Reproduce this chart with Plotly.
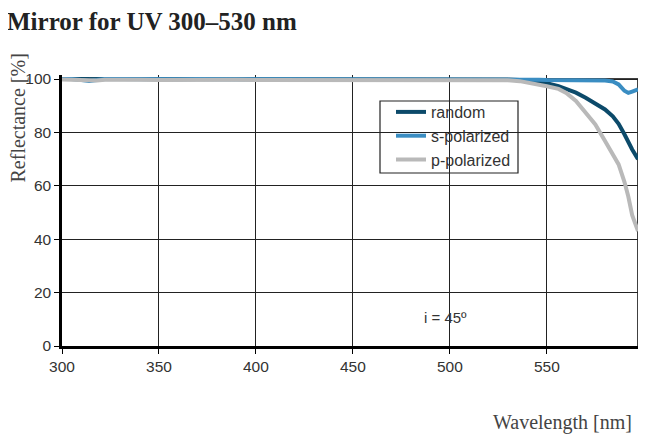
import plotly.graph_objects as go

# wavelength grid (nm)
wavelength = [300, 305, 310, 314, 318, 322, 330, 340, 350, 360, 370, 380, 390, 400,
              410, 420, 430, 440, 450, 460, 470, 480, 490, 500, 510, 520, 530, 536,
              540, 546, 550, 556, 560, 565, 570, 575, 580, 584, 587, 590, 592, 594, 597]

random_pol = [100.0, 100.0, 99.9, 99.8, 99.9, 100.0, 100.0, 99.9, 99.9, 100.0, 99.9, 99.9, 99.9, 99.9,
              99.9, 99.9, 100.0, 99.9, 99.9, 99.9, 99.9, 99.9, 100.0, 100.0, 100.0, 99.9, 99.8, 99.6,
              99.3, 99.0, 98.4, 97.3, 96.4, 94.9, 93.0, 91.0, 88.6, 86.0, 83.2, 79.3, 76.3, 73.6, 70.0]

s_pol = [100.0, 100.0, 99.6, 99.3, 99.6, 100.0, 100.0, 99.9, 99.9, 99.9, 100.0, 99.9, 99.9, 99.9,
         99.9, 99.9, 99.9, 99.9, 99.9, 99.9, 99.8, 99.9, 100.0, 100.0, 100.0, 100.0, 100.0, 99.9,
         99.8, 99.7, 99.6, 99.6, 99.6, 99.5, 99.5, 99.5, 99.4, 99.1, 98.0, 95.6, 94.8, 95.3, 96.1]

p_pol = [99.8, 99.7, 99.4, 99.2, 99.4, 99.7, 99.8, 99.7, 99.6, 99.7, 99.6, 99.6, 99.7, 99.6,
         99.6, 99.7, 99.6, 99.7, 99.6, 99.7, 99.6, 99.7, 99.8, 99.8, 99.8, 99.7, 99.5, 99.2,
         98.7, 97.8, 97.3, 96.3, 94.8, 91.8, 87.6, 83.0, 76.8, 71.5, 68.0, 61.5, 56.0, 49.0, 43.0]

y_ticks = [0, 20, 40, 60, 80, 100]
x_ticks = [300, 350, 400, 450, 500, 550]

# page body has an 8px margin, so everything is laid out 8px up/left
OFF = 8
W, H = 650, 445
L, R, T, B = 62 - OFF, 12 + OFF, 75 - OFF, 99 + OFF


def px_x(p):
    return (p - OFF - L) / (W - L - R)


def px_y(p):
    return (H - B - (p - OFF)) / (H - T - B)


fig = go.Figure()
fig.add_trace(go.Scatter(x=wavelength, y=random_pol, mode="lines", name="random",
                         line=dict(color="#0c4a6a", width=4)))
fig.add_trace(go.Scatter(x=wavelength, y=s_pol, mode="lines", name="s-polarized",
                         line=dict(color="#3a8dc2", width=4)))
fig.add_trace(go.Scatter(x=wavelength, y=p_pol, mode="lines", name="p-polarized",
                         line=dict(color="#b9b9b9", width=4)))

# top and right frame at 100 % / 597 nm
fig.add_shape(type="line", x0=300, x1=597, y0=100, y1=100, xref="x", yref="y",
              line=dict(color="black", width=1.5), layer="below")
fig.add_shape(type="line", x0=597, x1=597, y0=0, y1=100, xref="x", yref="y",
              line=dict(color="black", width=1.5), layer="below")
# legend frame (tighter than plotly's own)
fig.add_shape(type="rect", xref="paper", yref="paper",
              x0=px_x(380), x1=px_x(518), y0=px_y(173), y1=px_y(101),
              fillcolor="white", line=dict(color="#222", width=1.2), layer="between")

sans = "Liberation Sans, Arial, sans-serif"
serif = "Liberation Serif, DejaVu Serif, serif"

fig.update_layout(
    width=W, height=H,
    margin=dict(l=L, r=R, t=T, b=B),
    paper_bgcolor="white", plot_bgcolor="white",
    showlegend=True,
    legend=dict(x=px_x(391), y=px_y(95), xanchor="left", yanchor="top",
                bgcolor="rgba(0,0,0,0)", borderwidth=0,
                font=dict(family=sans, size=16, color="#333"),
                itemwidth=30, tracegroupgap=0),
    xaxis=dict(range=[300, 597], tickvals=x_ticks, showgrid=True, gridcolor="#222",
               gridwidth=1.3, zeroline=False, showline=True, linecolor="black",
               linewidth=2.5, ticks="outside", ticklen=5, tickcolor="black",
               tickfont=dict(family=sans, size=15.5, color="#333")),
    yaxis=dict(range=[0, 101.5], tickvals=y_ticks, showgrid=True, gridcolor="#222",
               gridwidth=1.3, zeroline=False, showline=True, linecolor="black",
               linewidth=2.5, ticks="outside", ticklen=5, tickcolor="black",
               tickfont=dict(family=sans, size=15.5, color="#333")),
)

fig.add_annotation(text="<b>Mirror for UV 300–530 nm</b>", xref="paper", yref="paper",
                   x=px_x(6), y=px_y(22), xanchor="left", yanchor="middle", borderpad=0,
                   showarrow=False, font=dict(family=serif, size=25, color="#222"))
fig.add_annotation(text="Reflectance [%]", xref="paper", yref="paper", textangle=-90,
                   x=px_x(17), y=px_y(52), xanchor="center", yanchor="top",
                   showarrow=False, font=dict(family=serif, size=20, color="#444"))
fig.add_annotation(text="Wavelength [nm]", xref="paper", yref="paper",
                   x=px_x(634), y=px_y(422), xanchor="right", yanchor="middle",
                   showarrow=False, font=dict(family=serif, size=20, color="#444"))
fig.add_annotation(text="i = 45º", xref="x", yref="y", x=497.5, y=10.5,
                   showarrow=False, font=dict(family=sans, size=15, color="#333"))

fig.write_html("out.html")
